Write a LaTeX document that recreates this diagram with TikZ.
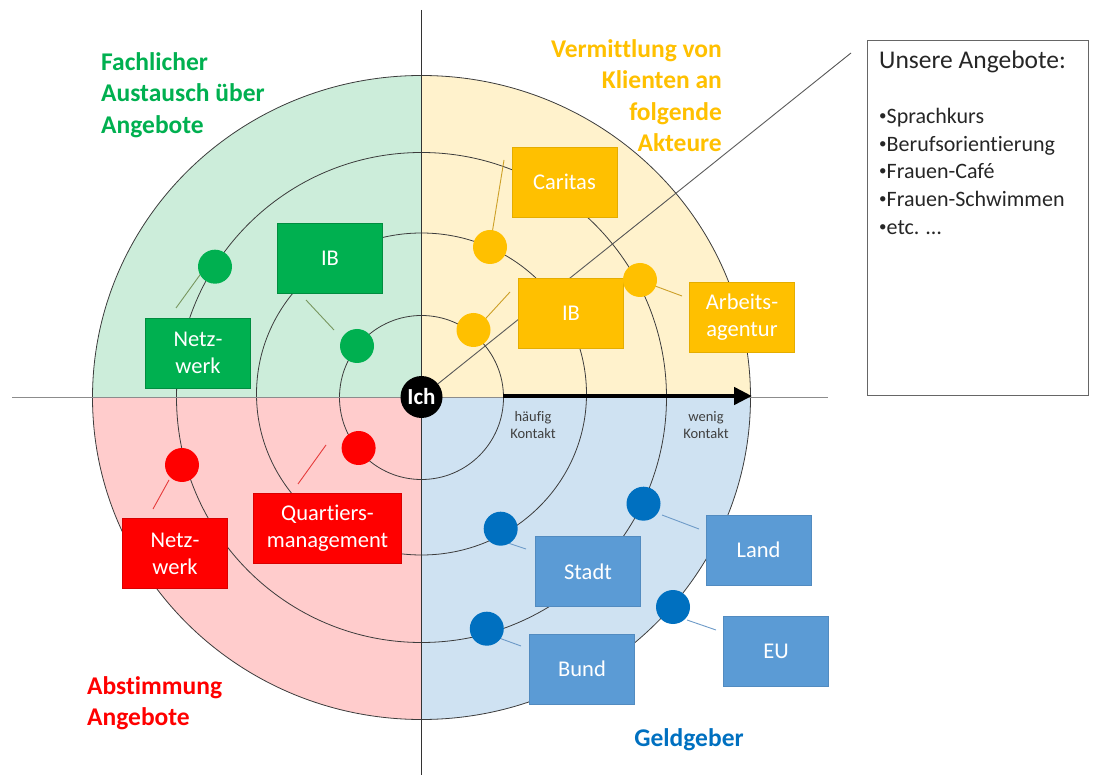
\documentclass[tikz,border=0pt]{standalone}
\usepackage{fontspec}
\setmainfont{Carlito}[Ligatures=NoCommon]
\usetikzlibrary{arrows.meta}
\pgfdeclarelayer{back}
\pgfsetlayers{back,main}

% quadrant tints
\definecolor{gFill}{RGB}{204,237,218}
\definecolor{yFill}{RGB}{255,242,204}
\definecolor{rFill}{RGB}{255,204,204}
\definecolor{bFill}{RGB}{207,226,242}
% strong colours
\definecolor{gStrong}{RGB}{0,176,80}
\definecolor{yStrong}{RGB}{255,192,0}
\definecolor{rStrong}{RGB}{255,0,0}
\definecolor{bBox}{RGB}{91,155,213}
\definecolor{bDot}{RGB}{0,112,192}
% connector tints
\definecolor{gLink}{RGB}{120,150,95}
\definecolor{yLink}{RGB}{205,160,40}
\definecolor{rLink}{RGB}{230,60,60}
\definecolor{bLink}{RGB}{110,155,200}
\definecolor{ringCol}{RGB}{60,60,60}
\definecolor{axisCol}{RGB}{140,140,140}

\newcommand{\offerbullet}{\raisebox{0.14em}{\fontsize{15}{15}\selectfont•}}

\tikzset{
  ring/.style={draw=ringCol, line width=0.8pt},
  actor/.style={minimum width=105pt, minimum height=70pt, inner sep=0pt,
    text=white, align=center, font=\fontsize{22.5}{27}\selectfont},
  dot/.style={circle, minimum size=34pt, inner sep=0pt},
  link/.style={line width=0.9pt},
  title/.style={inner sep=0pt, font=\fontsize{25.5}{31.5}\selectfont\bfseries},
  note/.style={inner sep=0pt, align=center, text=black!75,
    font=\fontsize{14.5}{17}\selectfont},
}

\begin{document}
\begin{tikzpicture}[x=1pt,y=-1pt]
\useasboundingbox (0,0) rectangle (1093,775);
\coordinate (O) at (421.5,397.5);
\coordinate (O2) at (421.5,394);

% centre node
\node[circle, fill=black, minimum size=42pt, inner sep=0pt, text=white,
      font=\fontsize{23}{23}\selectfont\bfseries] (ich) at (421.5,397) {Ich};

\begin{pgfonlayer}{back}
  % tinted quadrants
  \begin{scope}
    \clip (O) rectangle (0,0);
    \fill[gFill] (O) ellipse [x radius=329, y radius=322];
  \end{scope}
  \begin{scope}
    \clip (O) rectangle (1093,0);
    \fill[yFill] (O) ellipse [x radius=329, y radius=322];
  \end{scope}
  \begin{scope}
    \clip (O) rectangle (0,775);
    \fill[rFill] (O) ellipse [x radius=329, y radius=322];
  \end{scope}
  \begin{scope}
    \clip (O) rectangle (1093,775);
    \fill[bFill] (O) ellipse [x radius=329, y radius=322];
  \end{scope}

  % contact rings
  \draw[ring] (O) circle [radius=82];
  \draw[ring] (O2) ellipse [x radius=165, y radius=161];
  \draw[ring] (O) circle [radius=245];
  \draw[ring] (O) ellipse [x radius=329, y radius=322];

  % axes
  \coordinate (axL) at (12,397.5);
  \coordinate (axR) at (828,397.5);
  \coordinate (axT) at (421.5,10);
  \coordinate (axB) at (421.5,775);
  \draw[axisCol, line width=1pt] (axL) -- (axR);
  \draw[black!80, line width=0.9pt] (axT) -- (axB);

  % diagonal to the offers box
  \coordinate (diagEnd) at (851,53);
  \draw[black!65, line width=0.9pt] (ich) -- (diagEnd);

  % contact scale arrow
  \coordinate (arrS) at (503,396);
  \coordinate (arrE) at (752,396);
  \draw[line width=4.5pt, -{Triangle[length=18pt,width=17pt]}] (arrS) -- (arrE);

  % short connectors between dots and boxes
  \coordinate (gA1) at (176,308);   \coordinate (gA2) at (205,268);
  \coordinate (gB1) at (306,300);   \coordinate (gB2) at (334,330);
  \coordinate (yA1) at (504,160);   \coordinate (yA2) at (491,240);
  \coordinate (yB1) at (510,292);   \coordinate (yB2) at (477,328);
  \coordinate (yC1) at (647,283);   \coordinate (yC2) at (682,296);
  \coordinate (rA1) at (169,480);   \coordinate (rA2) at (153,509);
  \coordinate (rB1) at (326,445);   \coordinate (rB2) at (298,484);
  \coordinate (bA1) at (662,515);   \coordinate (bA2) at (699,529);
  \coordinate (bB1) at (687,620);   \coordinate (bB2) at (716,630);
  \coordinate (bC1) at (493,538);   \coordinate (bC2) at (526,549);
  \coordinate (bD1) at (488,634);   \coordinate (bD2) at (521,646);
  \draw[link, gLink] (gA1) -- (gA2);
  \draw[link, gLink] (gB1) -- (gB2);
  \draw[link, yLink] (yA1) -- (yA2);
  \draw[link, yLink] (yB1) -- (yB2);
  \draw[link, yLink] (yC1) -- (yC2);
  \draw[link, rLink] (rA1) -- (rA2);
  \draw[link, rLink] (rB1) -- (rB2);
  \draw[link, bLink] (bA1) -- (bA2);
  \draw[link, bLink] (bB1) -- (bB2);
  \draw[link, bLink] (bC1) -- (bC2);
  \draw[link, bLink] (bD1) -- (bD2);
\end{pgfonlayer}

% actor boxes
\node[actor, fill=gStrong, draw=gStrong!80!black] (gIB) at (330,258.5) {IB};
\node[actor, fill=gStrong, draw=gStrong!80!black] (gNetz) at (198,353) {Netz-\\werk};
\node[actor, fill=yStrong, draw=yStrong!90!black] (yCaritas) at (564.5,182) {Caritas};
\node[actor, fill=yStrong, draw=yStrong!90!black] (yIB) at (571,313) {IB};
\node[actor, fill=yStrong, draw=yStrong!90!black] (yArbeit) at (742,317.5) {Arbeits-\\agentur};
\node[actor, fill=rStrong, draw=rStrong!85!black] (rNetz) at (175,553.5) {Netz-\\werk};
\node[actor, fill=rStrong, draw=rStrong!85!black, minimum width=148pt] (rQuart) at (327.5,528.5) {Quartiers-\\management};
\node[actor, fill=bBox, draw=bBox!90!black] (bStadt) at (588,571.5) {Stadt};
\node[actor, fill=bBox, draw=bBox!90!black] (bBund) at (582,669) {Bund};
\node[actor, fill=bBox, draw=bBox!90!black] (bLand) at (758.5,550) {Land};
\node[actor, fill=bBox, draw=bBox!90!black] (bEU) at (776,651) {EU};

% contact dots
\node[dot, fill=gStrong] (gDot1) at (215,266.7) {};
\node[dot, fill=gStrong] (gDot2) at (357,346) {};
\node[dot, fill=yStrong] (yDotA) at (490,247) {};
\node[dot, fill=yStrong] (yDotB) at (473.5,330) {};
\node[dot, fill=yStrong] (yDotC) at (640,280) {};
\node[dot, fill=rStrong] (rDotA) at (182,465) {};
\node[dot, fill=rStrong] (rDotB) at (358.6,448) {};
\node[dot, fill=bDot] (bDotA) at (643.5,503.7) {};
\node[dot, fill=bDot] (bDotB) at (673,607) {};
\node[dot, fill=bDot] (bDotC) at (500.7,528.7) {};
\node[dot, fill=bDot] (bDotD) at (486.8,628.7) {};

% scale labels
\node[note] (often) at (533,425) {häufig\\Kontakt};
\node[note] (rarely) at (706,425) {wenig\\Kontakt};

% quadrant titles
\node[title, text=gStrong, anchor=north west, align=left] (tGreen) at (101,52)
  {Fachlicher\\Austausch über\\Angebote};
\node[title, text=yStrong, anchor=north east, align=right] (tYellow) at (722,39)
  {Vermittlung von\\Klienten an\\folgende\\Akteure};
\node[title, text=rStrong, anchor=north west, align=left] (tRed) at (87,676)
  {Abstimmung\\Angebote};
\node[title, text=bDot] (tBlue) at (689,740) {Geldgeber};

% offers box
\node[draw=black!60, line width=1pt, minimum width=221pt, minimum height=355pt,
      inner sep=0pt, anchor=north west] (offers) at (867,40) {};
\node[anchor=west, inner sep=0pt, text=black!85, font=\fontsize{25.5}{30}\selectfont]
  (offersHead) at (879,62) {Unsere Angebote:};
\node[anchor=north west, inner sep=0pt, align=left, text=black!85,
      font=\fontsize{22}{27.7}\selectfont] (offersList) at (879,108)
  {\offerbullet Sprachkurs\\\offerbullet Berufsorientierung\\\offerbullet Frauen-Café\\\offerbullet Frauen-Schwimmen\\\offerbullet etc. …};
\end{tikzpicture}
\end{document}
